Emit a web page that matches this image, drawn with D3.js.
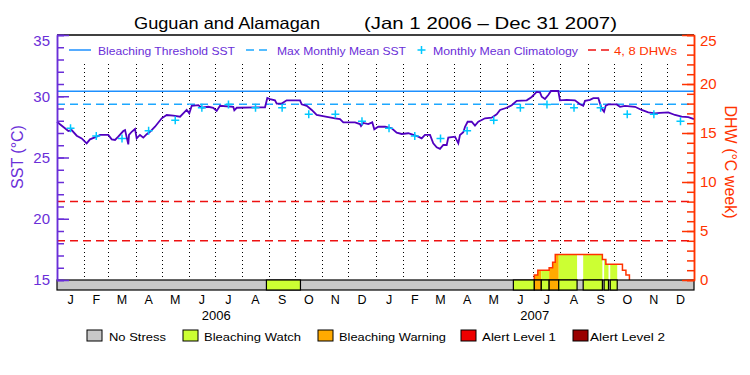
<!DOCTYPE html>
<html>
<head>
<meta charset="utf-8">
<script src="https://cdn.jsdelivr.net/npm/d3@7"></script>
<style>
  body { margin: 0; background: #fff; }
  text { font-family: "Liberation Sans", Arial, sans-serif; }
</style>
</head>
<body>
<div id="chart"></div>
<script>
// ---- data ----
const monthLetters = ["J","F","M","A","M","J","J","A","S","O","N","D"];
const years = [2006, 2007];

// daily SST (days since 2006-01-01, deg C)
const sstDay = [0,3.4,13,16.8,22.6,28.3,34,37.8,45.5,49.3,
  58.8,62.7,66.5,70.2,76,78,81.7,82.5,85.6,89.4,
  91.3,95.1,98.9,102.8,106.6,112.3,120,125.7,133.3,141,
  144.7,148.6,151.6,154.4,162,165.8,173.4,179,183,186.8,
  202,203.2,206,238.4,241,244.1,249.8,251.8,257.5,263.2,
  278.5,280.4,286.2,291.9,297.6,303.3,310.9,318.6,324.3,328.1,
  341.5,347.2,348.4,351,356.7,361.3,363.6,368.2,375.9,383.6,
  389.3,395,402.6,408.3,414,417.9,421.7,427.5,431.2,435.1,
  438.9,442.7,446.6,448.4,456.1,459.9,461.8,465.6,467.6,470.6,
  475.2,479,482.8,486.7,490.5,498.1,503.9,507.7,515.4,521.1,
  526.8,538.3,544,549.7,553.5,555.5,559.2,563,566.1,574.5,
  576.4,584.1,593.6,599.4,603.1,605.1,610.8,614.6,620.4,622.3,
  624.2,626.9,628.8,631.8,641.4,645.2,650.9,662.4,670,677.6,
  685.3,691,700.5,708.2,715.9,723.5,730];
const sstVal = [27.92,27.71,27.16,27.24,26.78,26.56,26.15,26.48,26.7,26.84,
  26.84,26.48,26.43,26.7,27.16,27.24,26.07,26.84,27.1,27.33,
  26.56,26.84,26.62,26.9,27.1,27.51,28.2,28.47,28.41,28.33,
  28.6,28.88,28.6,29.22,29.27,29.06,29.14,29.06,28.8,29.22,
  29.14,28.85,29.06,29.1,29.86,29.76,29.67,29.4,29.4,29.67,
  29.67,29.34,29.22,28.88,28.47,28.39,28.29,28.2,28.14,27.87,
  27.87,27.73,27.57,27.82,27.73,27.87,27.3,27.51,27.51,27.38,
  27.03,26.92,26.98,26.84,26.7,26.56,26.84,26.84,26.16,25.83,
  25.7,26.02,26.02,26.62,26.7,26.16,26.84,27.06,27.51,27.92,
  27.92,27.6,27.92,28.06,28.2,28.25,28.53,28.88,29.06,29.27,
  29.63,29.67,29.94,30.35,30.32,29.96,29.78,30.1,30.43,30.43,
  29.67,29.71,29.67,29.35,29.22,29.63,29.71,29.84,29.84,29.4,
  29.0,28.74,29.22,29.33,29.33,29.14,29.22,29.14,28.88,28.69,
  28.6,28.65,28.69,28.47,28.33,28.29,28.14];

// monthly mean climatology (deg C), Jan..Dec
const climVal = [27.38,26.76,26.56,27.19,28.05,29.07,29.33,29.07,29.07,28.53,28.53,27.95];

const mmm = 29.35;          // max monthly mean SST
const bleachThreshold = 30.4;
const dhwRefs = [4, 8];

// degree heating weeks (step values)
const dhwDate = ["2007-07-01","2007-07-02","2007-07-06","2007-07-19","2007-07-23","2007-07-26",
  "2007-09-18","2007-09-22","2007-10-11","2007-10-15","2007-10-19"];
const dhwVal = [0,0.5,1.0,1.25,1.8,2.6,2.1,1.6,1.0,0.5,0];

// stress level periods (everything else = No Stress)
const stressStart = ["2006-08-29","2007-06-08","2007-07-02","2007-07-10","2007-07-19","2007-07-30",
  "2007-08-27","2007-09-20","2007-09-27"];
const stressEnd = ["2006-10-07","2007-07-02","2007-07-10","2007-07-19","2007-07-30","2007-08-20",
  "2007-09-18","2007-09-25","2007-10-05"];
const stressLevel = [1,1,2,1,2,1,1,1,1];

const stressNames = ["No Stress","Bleaching Watch","Bleaching Warning","Alert Level 1","Alert Level 2"];
const stressColors = ["#c8c8c8","#ccff33","#ffaa00","#ee0000","#990000"];

// ---- layout ----
const W = 750, H = 375;
const pL = 57, pR = 694, pT = 35, pB = 280, barH = 10;
const purple = "#6a2ed8", sstColor = "#5000c0", dhwColor = "#ff3300";

const svg = d3.select("#chart").append("svg")
  .attr("width", W).attr("height", H);

const t0 = new Date(Date.UTC(2006, 0, 1));
const day = d => new Date(t0.getTime() + d * 864e5);
const parse = d3.utcParse("%Y-%m-%d");

const x = d3.scaleUtc().domain([t0, new Date(Date.UTC(2008, 0, 1))]).range([pL, pR]);
const y = d3.scaleLinear().domain([15, 35]).range([pB, pT]);
const yd = d3.scaleLinear().domain([0, 25]).range([pB, pT]);

// title
svg.append("text").attr("x", 134).attr("y", 29).attr("font-size", 16.5)
  .attr("textLength", 186).attr("lengthAdjust", "spacingAndGlyphs")
  .text("Guguan and Alamagan");
svg.append("text").attr("x", 364).attr("y", 29).attr("font-size", 16.5)
  .attr("textLength", 253).attr("lengthAdjust", "spacingAndGlyphs")
  .text("(Jan 1 2006 \u2013 Dec 31 2007)");

// month grid
const monthStarts = d3.utcMonth.range(new Date(Date.UTC(2006, 1, 1)), new Date(Date.UTC(2008, 0, 1)));
svg.append("g").selectAll("line").data(monthStarts).join("line")
  .attr("x1", d => Math.round(x(d)) + 0.5).attr("x2", d => Math.round(x(d)) + 0.5)
  .attr("y1", 64).attr("y2", pB)
  .attr("stroke", "#000").attr("stroke-width", 1).attr("stroke-dasharray", "1,3");

// reference lines
svg.append("line").attr("x1", pL).attr("x2", pR)
  .attr("y1", y(bleachThreshold)).attr("y2", y(bleachThreshold))
  .attr("stroke", "#1e90ff").attr("stroke-width", 1.5);
svg.append("line").attr("x1", pL).attr("x2", pR)
  .attr("y1", y(mmm)).attr("y2", y(mmm))
  .attr("stroke", "#1ea8ff").attr("stroke-width", 1.5).attr("stroke-dasharray", "8,5");
svg.append("g").selectAll("line").data(dhwRefs).join("line")
  .attr("x1", pL).attr("x2", pR)
  .attr("y1", d => yd(d)).attr("y2", d => yd(d))
  .attr("stroke", "#ee1111").attr("stroke-width", 1.5).attr("stroke-dasharray", "8,5");

// DHW area, filled with the stress colour of each period
const dhw = dhwDate.map((d, i) => ({ t: parse(d), v: dhwVal[i] }));
const stress = stressStart.map((s, i) => ({ s: parse(s), e: parse(stressEnd[i]), lvl: stressLevel[i] }));

const dhwArea = d3.area().curve(d3.curveStepAfter)
  .x(d => x(d.t)).y0(yd(0)).y1(d => yd(d.v));
svg.append("clipPath").attr("id", "dhwclip")
  .append("path").attr("d", dhwArea(dhw));
svg.append("g").attr("clip-path", "url(#dhwclip)")
  .selectAll("rect").data(stress).join("rect")
  .attr("x", d => x(d.s)).attr("width", d => x(d.e) - x(d.s))
  .attr("y", pT).attr("height", pB - pT)
  .attr("fill", d => stressColors[d.lvl]);
svg.append("path")
  .attr("d", d3.line().curve(d3.curveStepAfter).x(d => x(d.t)).y(d => yd(d.v))(dhw))
  .attr("fill", "none").attr("stroke", dhwColor).attr("stroke-width", 1.5);

// SST line
const sst = sstDay.map((d, i) => ({ t: day(d), v: sstVal[i] }));
svg.append("path")
  .attr("d", d3.line().x(d => x(d.t)).y(d => y(d.v))(sst))
  .attr("fill", "none").attr("stroke", sstColor).attr("stroke-width", 1.8);

// climatology crosses
const clim = [];
years.forEach(yr => climVal.forEach((v, m) => {
  const a = Date.UTC(yr, m, 1), b = Date.UTC(yr, m + 1, 1);
  clim.push({ t: new Date((a + b) / 2), v });
}));
svg.append("g").selectAll("path").data(clim).join("path")
  .attr("d", d => `M${x(d.t) - 4},${y(d.v)}h8M${x(d.t)},${y(d.v) - 4}v8`)
  .attr("stroke", "#00c8ff").attr("stroke-width", 1.5);

// stress bar
svg.append("rect").attr("x", pL).attr("y", pB).attr("width", pR - pL).attr("height", barH)
  .attr("fill", stressColors[0]).attr("stroke", "#000").attr("stroke-width", 1.2);
svg.append("g").selectAll("rect").data(stress).join("rect")
  .attr("x", d => x(d.s)).attr("width", d => x(d.e) - x(d.s))
  .attr("y", pB).attr("height", barH)
  .attr("fill", d => stressColors[d.lvl]).attr("stroke", "#000").attr("stroke-width", 1.2);

// top border
svg.append("line").attr("x1", pL).attr("x2", pR).attr("y1", pT).attr("y2", pT)
  .attr("stroke", "#000").attr("stroke-width", 1.5);

// left axis (SST)
const gl = svg.append("g").attr("transform", `translate(${pL},0)`);
gl.call(d3.axisLeft(y).tickValues(d3.range(15, 36, 1)).tickSize(-7).tickFormat(""));
gl.append("g").call(d3.axisLeft(y).tickValues(d3.range(15, 36, 5)).tickSizeInner(-12).tickSizeOuter(0).tickPadding(7));
gl.selectAll("path,line").attr("stroke", purple).attr("stroke-width", 1.5);
gl.selectAll("text").attr("fill", purple).attr("font-size", 15)
  .attr("font-family", "Liberation Sans, Arial, sans-serif");
gl.selectAll(".tick text").filter(d => d === 35).attr("dy", "0.7em");

// right axis (DHW)
const gr = svg.append("g").attr("transform", `translate(${pR},0)`);
gr.call(d3.axisRight(yd).tickValues(d3.range(0, 26, 1)).tickSize(-7).tickFormat(""));
gr.append("g").call(d3.axisRight(yd).tickValues(d3.range(0, 26, 5)).tickSizeInner(-12).tickSizeOuter(0).tickPadding(6));
gr.selectAll("path,line").attr("stroke", dhwColor).attr("stroke-width", 1.5);
gr.selectAll("text").attr("fill", dhwColor).attr("font-size", 15)
  .attr("font-family", "Liberation Sans, Arial, sans-serif");
gr.selectAll(".tick text").filter(d => d === 25).attr("dy", "0.7em");

// axis titles
svg.append("text").attr("transform", "translate(23,157) rotate(-90)")
  .attr("text-anchor", "middle").attr("font-size", 16).attr("fill", purple)
  .text("SST (\u00b0C)");
svg.append("text").attr("transform", "translate(725,162) rotate(90)")
  .attr("text-anchor", "middle").attr("font-size", 16).attr("fill", dhwColor)
  .text("DHW (\u00b0C week)");

// month and year labels
const monthMids = [];
years.forEach(yr => monthLetters.forEach((m, i) => {
  const a = Date.UTC(yr, i, 1), b = Date.UTC(yr, i + 1, 1);
  monthMids.push({ t: new Date((a + b) / 2), m });
}));
svg.append("g").selectAll("text").data(monthMids).join("text")
  .attr("x", d => x(d.t)).attr("y", 304).attr("text-anchor", "middle")
  .attr("font-size", 12.5).text(d => d.m);
svg.append("g").selectAll("text").data(years).join("text")
  .attr("x", d => x(new Date((Date.UTC(d, 0, 1) + Date.UTC(d + 1, 0, 1)) / 2)))
  .attr("y", 320).attr("text-anchor", "middle").attr("font-size", 13).text(d => d);

// top legend
const lg = svg.append("g");
lg.append("line").attr("x1", 69).attr("x2", 91).attr("y1", 50).attr("y2", 50)
  .attr("stroke", "#1e90ff").attr("stroke-width", 1.5);
lg.append("line").attr("x1", 246).attr("x2", 271).attr("y1", 50).attr("y2", 50)
  .attr("stroke", "#1ea8ff").attr("stroke-width", 1.5).attr("stroke-dasharray", "8,5");
lg.append("path").attr("d", "M417.5,50h8M421.5,46v8").attr("stroke", "#00c8ff").attr("stroke-width", 1.5);
lg.append("line").attr("x1", 588).attr("x2", 611).attr("y1", 50).attr("y2", 50)
  .attr("stroke", "#ee1111").attr("stroke-width", 1.5).attr("stroke-dasharray", "8,5");
[[98, 137, "Bleaching Threshold SST", purple],
 [277, 129, "Max Monthly Mean SST", purple],
 [433, 145, "Monthly Mean Climatology", purple],
 [614, 63, "4, 8 DHWs", dhwColor]].forEach(([lx, len, txt, col]) => {
  lg.append("text").attr("x", lx).attr("y", 55).attr("font-size", 11.5)
    .attr("textLength", len).attr("lengthAdjust", "spacingAndGlyphs")
    .attr("fill", col).text(txt);
});

// bottom legend
const boxX = [87, 183, 318, 461, 573];
const textX = [109, 204, 339, 482, 590];
const textLen = [57, 97, 107, 74, 75];
const bl = svg.append("g");
bl.selectAll("rect").data(stressNames).join("rect")
  .attr("x", (d, i) => boxX[i]).attr("y", 330).attr("width", 15).attr("height", 11)
  .attr("fill", (d, i) => stressColors[i]).attr("stroke", "#000").attr("stroke-width", 1);
bl.selectAll("text").data(stressNames).join("text")
  .attr("x", (d, i) => textX[i]).attr("y", 340.5).attr("font-size", 11.5)
  .attr("textLength", (d, i) => textLen[i]).attr("lengthAdjust", "spacingAndGlyphs")
  .text(d => d);
</script>
</body>
</html>
